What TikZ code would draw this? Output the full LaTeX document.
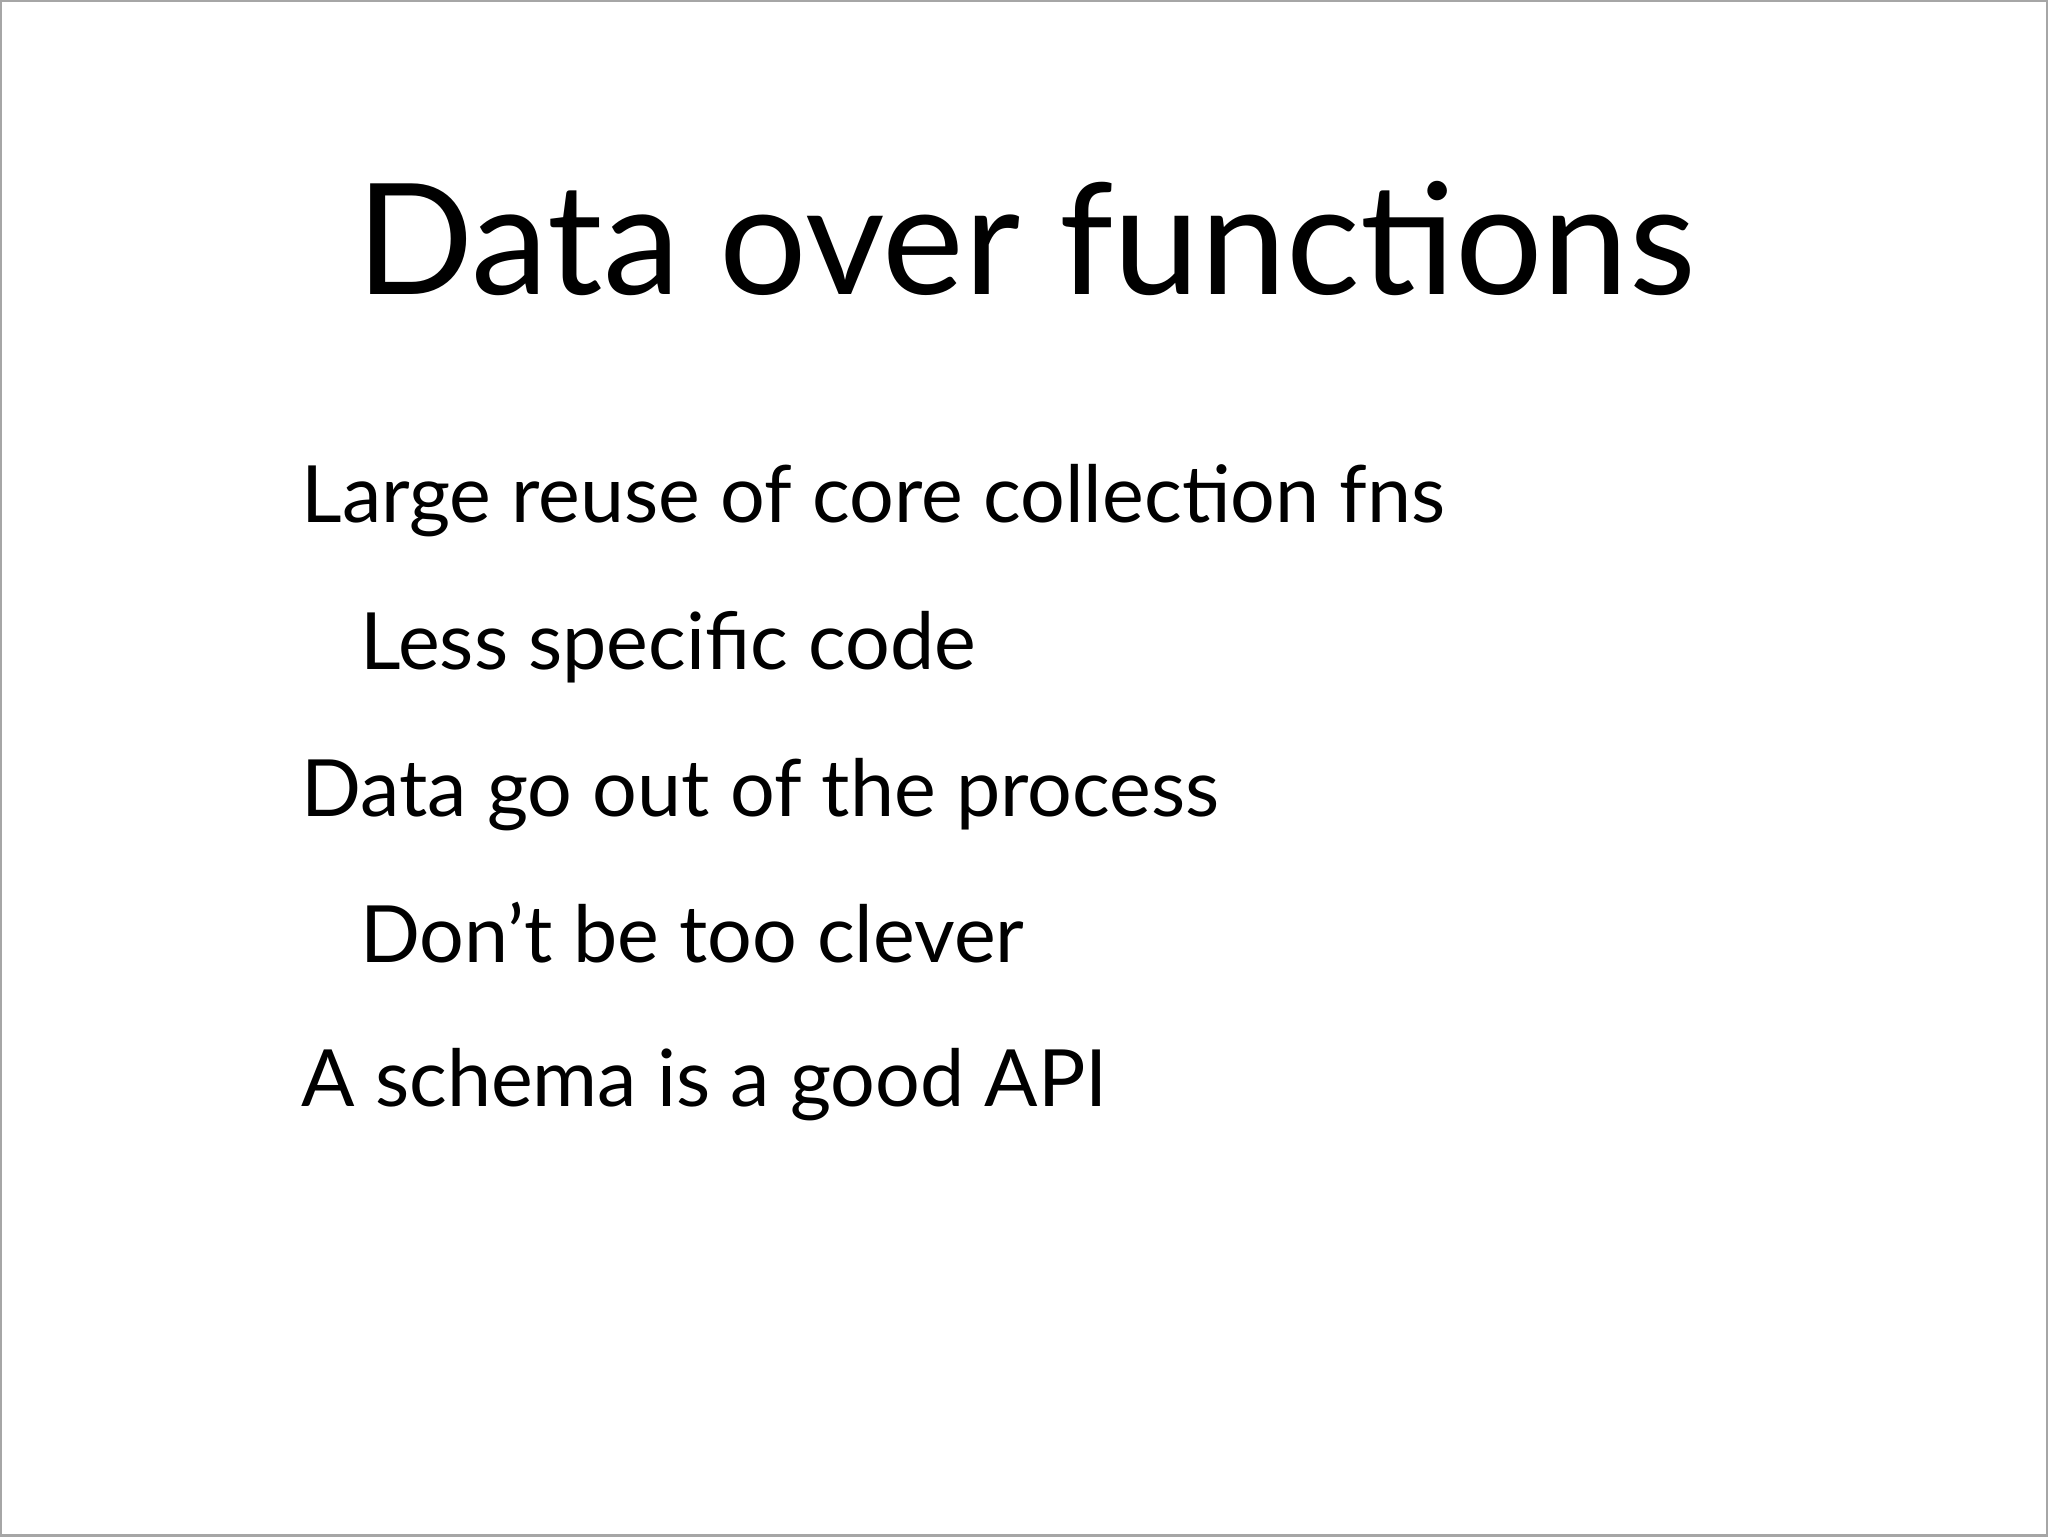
\documentclass[tikz,border=0pt]{standalone}
\usepackage{fontspec}
\setmainfont{Lato}
\begin{document}
\begin{tikzpicture}[x=1cm,y=1cm,
  title/.style={anchor=base west,inner sep=0pt,font=\fontsize{44}{48}\selectfont},
  item/.style={anchor=base west,inner sep=0pt,font=\fontsize{22.5}{26}\selectfont}]
\draw[gray!70,line width=0.6pt,fill=white] (0,0) rectangle (20.48,15.36);
\useasboundingbox (0,0) rectangle (20.48,15.36);
\node[title] (t) at (3.55,15.36-2.94) {Data over functions};
\node[item] (a) at (3.00,15.36-5.22) {Large reuse of core collection fns};
\node[item] (b) at (3.59,15.36-6.69) {Less specific code};
\node[item] (c) at (3.00,15.36-8.16) {Data go out of the process};
\node[item] (d) at (3.59,15.36-9.62) {Don’t be too clever};
\node[item] (e) at (3.00,15.36-11.07) {A schema is a good API};
\end{tikzpicture}
\end{document}
